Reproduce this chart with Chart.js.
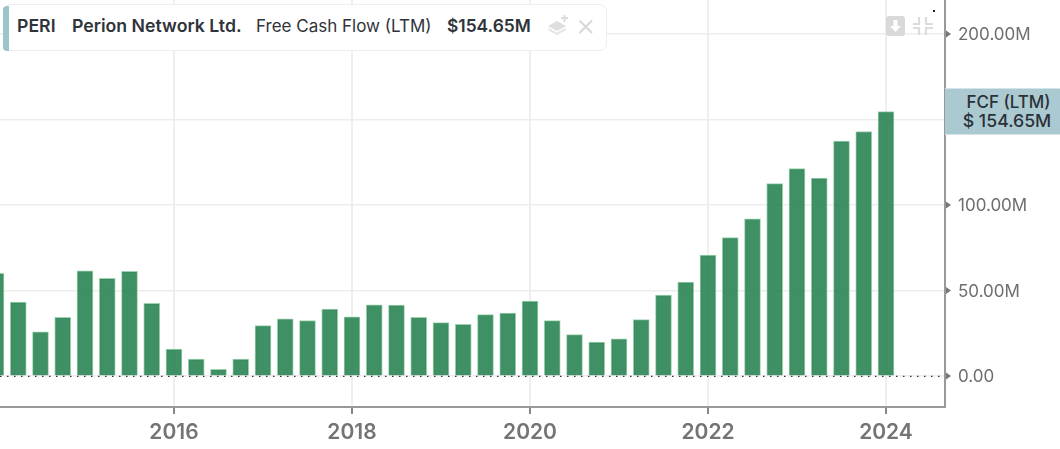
<!DOCTYPE html>
<html><head><meta charset="utf-8">
<script src="https://cdn.jsdelivr.net/npm/chart.js@4"></script>
<style>
html,body{margin:0;padding:0;background:#fff;width:1060px;height:449px;overflow:hidden;font-family:Inter,"Noto Sans",sans-serif}
#wrap{position:relative;width:1060px;height:449px}
canvas{position:absolute;left:0;top:0}
.hdr{position:absolute;left:3px;top:4px;width:602px;height:45px;background:#fff;border:1px solid #eeeeee;border-radius:7px;box-sizing:content-box}
.stripe{position:absolute;left:-1px;top:1px;width:6px;height:45px;background:#9cc5cb;border-radius:4px 0 0 4px}
.t{position:absolute;top:26px;transform:translateY(-50%);font-size:17px;line-height:20px;color:#2f333a;white-space:nowrap}
.b{font-weight:600}
.tag{position:absolute;left:945px;top:88px;width:115px;height:47px;background:#abc9d0;color:#2b3138;font-size:17px;font-weight:500;line-height:18px;text-align:center;box-sizing:border-box;padding-top:4px;border-top:1px solid #d5e4e8;border-bottom:1px solid #d5e4e8}
.tag div:first-child{padding-left:12px;margin-bottom:1px}
.tag div:last-child{padding-left:9px;font-size:17.700px}
svg{position:absolute}
</style></head><body><div id="wrap">
<canvas id="c" width="1060" height="449"></canvas>
<div class="hdr"><div class="stripe"></div></div>
<div class="t b" style="left:17px;font-size:17.700px">PERI</div>
<div class="t b" style="left:72px;font-size:17.700px">Perion Network Ltd.</div>
<div class="t" style="left:256px">Free Cash Flow (LTM)</div>
<div class="t b" style="left:447px;font-size:17.400px">$154.65M</div>
<svg style="left:546px;top:12px" width="26" height="26" viewBox="0 0 26 26"><path d="M2 14 L11 9 L20 14 L11 19Z" fill="#dedede"/><path d="M2 18 L11 23 L20 18 L18 17 L11 21 L4 17Z" fill="#e2e2e2"/><path d="M2 15.500 L11 20.500 L20 15.500 L20 17 L11 22 L2 17Z" fill="#e8e8e8"/><path d="M15 6h7M18.500 3v7" stroke="#dcdcdc" stroke-width="2"/></svg>
<svg style="left:577px;top:18px" width="18" height="18" viewBox="0 0 18 18"><path d="M2.500 2.500 L15 15M15 2.500 L2.500 15" stroke="#d9d9d9" stroke-width="2.200"/></svg>
<svg style="left:885px;top:15px" width="22" height="22" viewBox="0 0 22 22"><rect x="1" y="1" width="19" height="20" rx="3" fill="#d9d9d9"/><path d="M8.500 5h4v6h3.500l-5.500 6-5.500-6h3.500z" fill="#fff"/></svg>
<svg style="left:911px;top:15px" width="24" height="22" viewBox="0 0 24 22"><path d="M8 2v7H2M15 2v7h7M8 20v-7H2M15 20v-7h7" fill="none" stroke="#dcdcdc" stroke-width="2.200"/></svg>
<div style="position:absolute;left:933px;top:10px;width:2px;height:2px;background:#222"></div>
<div class="tag"><div>FCF (LTM)</div><div>$ 154.65M</div></div>
</div>
<script>
const periods = [2014,2014.25,2014.5,2014.75,2015,2015.25,2015.5,2015.75,2016,2016.25,2016.5,2016.75,2017,2017.25,2017.5,2017.75,2018,2018.25,2018.5,2018.75,2019,2019.25,2019.5,2019.75,2020,2020.25,2020.5,2020.75,2021,2021.25,2021.5,2021.75,2022,2022.25,2022.5,2022.75,2023,2023.25,2023.5,2023.75,2024];
const fcfValues = [60,43.2,25.9,34.4,61.5,57.1,61.2,42.5,15.7,9.9,4,9.9,29.5,33.5,32.5,39.1,34.7,41.7,41.5,34.4,31.2,30.3,35.9,36.8,43.8,32.4,24.2,19.8,21.8,33,47.3,54.9,70.7,80.9,92,112.5,121.3,115.7,137.4,143,154.65];
const yearTicks = [2016,2018,2020,2022,2024];
const valueTicks = [0,50,100,150,200];
const valueLabels = ['0.00','50.00M','100.00M','150.00M','200.00M'];

const markers = {
  id:'markers',
  afterDatasetsDraw(ch){
    const {ctx,scales:{x,y},chartArea:a}=ch;
    ctx.save();
    ctx.strokeStyle='#333';ctx.lineWidth=1.2;ctx.setLineDash([1.5,5.5]);
    ctx.beginPath();ctx.moveTo(a.left,y.getPixelForValue(0)+0.3);ctx.lineTo(a.right,y.getPixelForValue(0)+0.3);ctx.stroke();
    ctx.setLineDash([]);
    ctx.fillStyle='#777';
    valueTicks.forEach(v=>{const p=y.getPixelForValue(v);
      ctx.beginPath();ctx.moveTo(a.right+1,p-3.5);ctx.lineTo(a.right+6,p);ctx.lineTo(a.right+1,p+3.5);ctx.closePath();ctx.fill();});
    ctx.restore();
  }
};
new Chart(document.getElementById('c'),{
  type:'bar',
  data:{datasets:[{
    data:periods.map((p,i)=>({x:p,y:fcfValues[i]})),
    backgroundColor:'rgba(36,128,78,0.87)',
    borderColor:'rgba(150,205,170,0.9)',
    borderWidth:{top:1,left:1,right:1,bottom:0},
    barThickness:16
  }]},
  options:{
    responsive:false,animation:false,devicePixelRatio:1,
    layout:{padding:0},
    plugins:{legend:{display:false},tooltip:{enabled:false},title:{display:false}},
    scales:{
      x:{type:'linear',offset:false,min:2014.045,max:2024.663,
        afterBuildTicks(s){s.ticks=yearTicks.map(v=>({value:v}));},
        afterFit(s){s.height=42;s.paddingLeft=0;s.paddingRight=0;},
        grid:{offset:false,color:'#efefef',lineWidth:2,drawTicks:true,tickColor:'#888',tickLength:7,tickWidth:2},
        border:{color:'#999',width:2},
        ticks:{maxRotation:0,autoSkip:false,padding:6,color:'#747474',font:{family:'Inter',size:21,weight:'600'},callback:v=>String(v)}
      },
      y:{position:'right',min:-18.1,max:219.9,
        afterBuildTicks(s){s.ticks=valueTicks.map(v=>({value:v}));},
        afterFit(s){s.width=115;s.paddingTop=0;s.paddingBottom=0;},
        grid:{color:'#ededed',lineWidth:1.5,drawTicks:false},
        border:{color:'#999',width:2},
        ticks:{padding:13,labelOffset:1,color:'#6e6e6e',font:{family:'Inter',size:17},callback:v=>valueLabels[valueTicks.indexOf(v)]}
      }
    }
  },
  plugins:[markers]
});
</script></body></html>
